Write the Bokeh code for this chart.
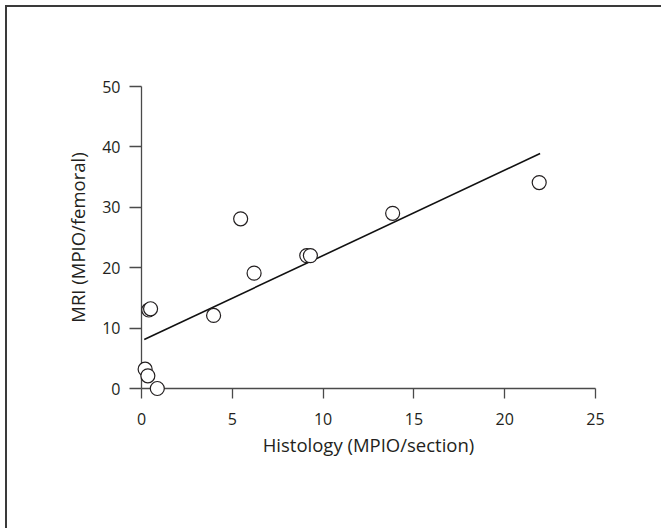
from bokeh.plotting import figure
from bokeh.models import Range1d, LinearAxis, FixedTicker
from bokeh.embed import file_html
from bokeh.resources import INLINE

# Data
histology = [0.2, 0.35, 0.87, 0.4, 0.5, 3.97, 5.46, 6.2, 9.1, 9.3, 13.83, 21.9]
mri = [3.2, 2.1, 0.0, 13.0, 13.2, 12.1, 28.1, 19.1, 22.0, 22.0, 29.0, 34.1]
fit_x = [0.15, 21.95]
fit_y = [8.1, 38.9]
x_ticks = [0, 5, 10, 15, 20, 25]
y_ticks = [0, 10, 20, 30, 40, 50]

FONT = "Open Sans"
TXT = "#231f20"
AX = "#4a4a4a"

p = figure(width=661, height=528, output_backend="svg", toolbar_location=None,
           x_range=Range1d(0, 25), y_range=Range1d(0, 50),
           x_axis_type=None, y_axis_type=None,
           min_border_left=141, min_border_right=66, min_border_top=86, min_border_bottom=140,
           styles={"box-shadow": "inset 5px 5px 0 0 #ffffff, inset 7px 7px 0 0 #3a3a3a",
                   "background-color": "#ffffff"})
p.grid.visible = False
p.outline_line_color = None
p.background_fill_color = "white"
p.border_fill_color = None

xaxis = LinearAxis(ticker=FixedTicker(ticks=x_ticks), axis_label="Histology (MPIO/section)")
yaxis = LinearAxis(ticker=FixedTicker(ticks=y_ticks), axis_label="MRI (MPIO/femoral)")
for ax in (xaxis, yaxis):
    ax.axis_line_color = AX
    ax.axis_line_width = 1.3
    ax.major_tick_line_color = AX
    ax.major_tick_line_width = 1.3
    ax.major_tick_in = 0
    ax.minor_tick_line_color = None
    ax.major_label_text_font = FONT
    ax.major_label_text_font_size = "16px"
    ax.major_label_text_color = TXT
    ax.axis_label_text_font = FONT
    ax.axis_label_text_font_size = "18.5px"
    ax.axis_label_text_font_style = "normal"
    ax.axis_label_text_color = TXT
xaxis.major_tick_out = 10
xaxis.major_label_standoff = 14
xaxis.axis_label_standoff = 4
yaxis.major_tick_out = 12
yaxis.major_label_standoff = 9
yaxis.axis_label_standoff = 9
p.add_layout(xaxis, "below")
p.add_layout(yaxis, "left")

p.line(fit_x, fit_y, line_color="#111111", line_width=1.6)
r = p.scatter(histology, mri, marker="circle", size=14, fill_color="white",
              line_color=TXT, line_width=1.2)
r.level = "overlay"

open("out.html", "w").write(file_html(p, INLINE))
